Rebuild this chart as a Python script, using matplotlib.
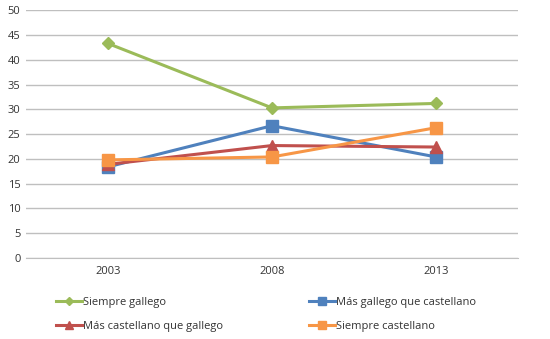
import matplotlib
matplotlib.use("Agg")
import matplotlib.pyplot as plt

years = ["2003", "2008", "2013"]
siempre_gallego = [43.3, 30.3, 31.2]
mas_gallego = [18.4, 26.7, 20.4]
mas_castellano = [18.9, 22.7, 22.4]
siempre_castellano = [19.8, 20.4, 26.3]
labels = ["Siempre gallego", "Más gallego que castellano",
          "Más castellano que gallego", "Siempre castellano"]

plt.rcParams['font.family'] = ['Open Sans', 'DejaVu Sans']

fig = plt.figure(figsize=(5.5, 3.39), dpi=100)
ax = fig.add_axes([26/550, 1 - 258/339, 492/550, 247.7/339])

x = range(len(years))
h1, = ax.plot(x, siempre_gallego, color="#9BBB59", lw=2.2, marker="D", ms=6, label=labels[0])
h2, = ax.plot(x, mas_gallego, color="#4F81BD", lw=2.2, marker="s", ms=8, label=labels[1])
h3, = ax.plot(x, mas_castellano, color="#C0504D", lw=2.2, marker="^", ms=8, label=labels[2])
h4, = ax.plot(x, siempre_castellano, color="#F79646", lw=2.2, marker="s", ms=8, label=labels[3])

ax.set_xlim(-0.5, 2.5)
ax.set_ylim(0, 50)
ax.set_yticks(range(0, 51, 5))
ax.set_xticks(list(x))
ax.set_xticklabels(years)
ax.yaxis.grid(True, color="#BFBFBF", lw=1)
ax.set_axisbelow(True)
for s in ["left", "right", "top"]:
    ax.spines[s].set_visible(False)
ax.spines["bottom"].set_color("#BFBFBF")
ax.tick_params(axis="both", length=0, labelsize=8, colors="#333333")
ax.tick_params(axis="y", pad=4)
ax.tick_params(axis="x", pad=6)

leg = fig.legend(handles=[h1, h3, h2, h4],
                 labels=[labels[0], labels[2], labels[1], labels[3]], ncol=2,
                 loc="upper left", bbox_to_anchor=(46/550, 1 - 287/339),
                 frameon=False, fontsize=8, handlelength=2.3, handletextpad=0.1,
                 columnspacing=7.8, labelspacing=1.15, markerscale=0.7)
for t in leg.get_texts():
    t.set_color("#333333")

fig.savefig("out.png", dpi=100)
